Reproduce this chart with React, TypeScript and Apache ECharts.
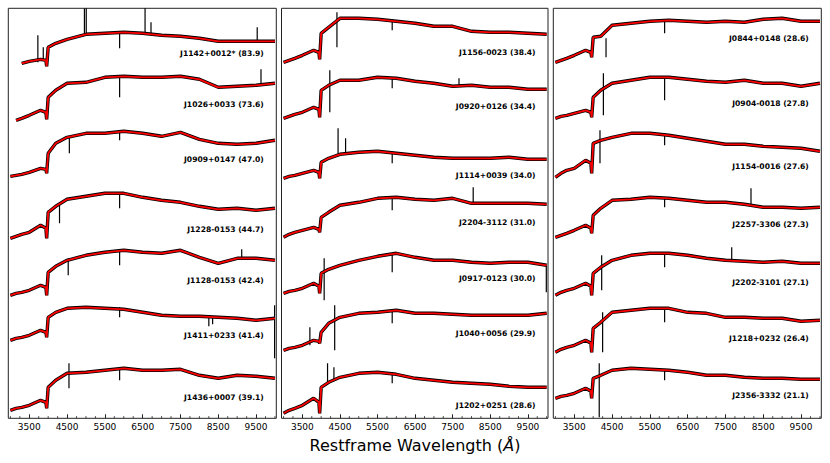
import React, { useEffect, useRef } from "react";
import * as echarts from "echarts";

// Wavelength grid (Angstrom) shared by all spectra
const WAVE = [3000, 3150, 3300, 3500, 3800, 3940, 3960, 4000, 4200, 4500, 5000, 5500, 6000, 6500, 7000, 7500, 8000, 8500, 9000, 9500, 10000];
const MAJOR_TICKS = [3500, 4500, 5500, 6500, 7500, 8500, 9500];
const MINOR_TICKS = [3000, 3250, 3750, 4000, 4250, 4750, 5000, 5250, 5750, 6000, 6250, 6750, 7000, 7250, 7750, 8000, 8250, 8750, 9000, 9250, 9750, 10000];

// Panel 1
const NAMES_1 = ["J1142+0012* (83.9)", "J1026+0033 (73.6)", "J0909+0147 (47.0)", "J1228-0153 (44.7)", "J1128-0153 (42.4)", "J1411+0233 (41.4)", "J1436+0007 (39.1)"];
const OFFSETS_1 = [355, 298, 242, 180, 123, 78, 8];
const LABEL_LEVEL_1 = [10, 16, 17, 9, 15, 5, 13];
const F_J1142 = [null, null, 0, 2, 4, 3, -3, 16, 20, 24, 29, 30, 31, 30, 28, 27, 25, 22, 22, 22, 22];
const F_J1026 = [null, 0, 2, 5, 10, 8, 1, 23, 30, 37, 38, 43, 44, 43, 43, 44, 41, 33, 34, 35, 37];
const F_J0909 = [0, 1, 2, 4, 8, 7, 3, 23, 33, 39, 43, 43, 45, 43, 40, 44, 37, 33, 32, 33, 36];
const F_J1228 = [0, 2, 4, 6, 13, 10, 0, 26, 32, 39, 42, 45, 45, 41, 38, 36, 32, 29, 30, 28, 30];
const F_J1128 = [0, 2, 3, 5, 10, 8, 0, 23, 29, 35, 40, 43, 45, 43, 42, 45, 38, 32, 37, 37, 35];
const F_J1411 = [0, 2, 3, 5, 10, 8, 3, 23, 28, 32, 33, 32, 31, 28, 25, 24, 24, 23, 22, 20, 22];
const F_J1436 = [0, 2, 3, 5, 10, 8, 2, 23, 30, 37, 38, 40, 42, 40, 40, 41, 35, 32, 35, 34, 32];
const S_J1142 = [[3727, 1, 28], [3870, 4, 16], [4959, 29, 55], [5007, 29, 56], [5890, 30, 15], [6563, 30, 56], [6720, 30, 41], [9530, 22, 36]];
const S_J1026 = [[5890, 43, 23], [9630, 35, 51]];
const S_J0909 = [[4560, 40, 23], [5890, 46, 36]];
const S_J1228 = [[4300, 34, 15], [5890, 45, 30]];
const S_J1128 = [[4530, 37, 20], [5890, 45, 30], [9120, 37, 46]];
const S_J1411 = [[5890, 33, 23], [8250, 24, 14], [8350, 24, 16], [9990, 35, -18]];
const S_J1436 = [[4550, 22, 47], [5890, 41, 30]];

// Panel 2
const NAMES_2 = ["J1156-0023 (38.4)", "J0920+0126 (34.4)", "J1114+0039 (34.0)", "J2204-3112 (31.0)", "J0917-0123 (30.0)", "J1040+0056 (29.9)", "J1202+0251 (28.6)"];
const OFFSETS_2 = [356, 300, 240, 181, 125, 68, 5];
const LABEL_LEVEL_2 = [10, 12, 3, 15, 15, 17, 8];
const F_J1156 = [0, 2, 4, 7, 12, 10, 3, 29, 35, 44, 44, 43, 41, 39, 36, 36, 31, 30, 30, 29, 28];
const F_J0920 = [0, 2, 4, 6, 11, 9, 1, 28, 33, 38, 38, 41, 40, 37, 35, 32, 33, 31, 31, 29, 29];
const F_J1114 = [0, 2, 3, 5, 8, 6, 0, 16, 20, 24, 26, 27, 25, 23, 21, 20, 20, 20, 21, 19, 19];
const F_J2204 = [0, 3, 5, 7, 10, 8, 5, 20, 25, 32, 35, 39, 40, 38, 37, 39, 34, 34, 34, 34, 33];
const F_J0917 = [0, 2, 3, 5, 10, 7, 0, 20, 24, 28, 33, 37, 40, 36, 33, 33, 31, 30, 31, 31, 28];
const F_J1040 = [0, 2, 3, 5, 10, 9, 7, 18, 27, 33, 37, 38, 40, 37, 37, 36, 35, 35, 35, 35, 37];
const F_J1202 = [0, 3, 5, 8, 15, 11, 0, 26, 31, 36, 40, 41, 39, 35, 33, 31, 30, 29, 27, 26, 26];
const S_J1156 = [[4420, 15, 50], [5890, 43, 32]];
const S_J0920 = [[4230, 6, 48], [5890, 40, 30], [7667, 32, 40]];
const S_J1114 = [[4450, 24, 50], [4650, 25, 40], [5890, 27, 15]];
const S_J2204 = [[8045, 34, 50], [5890, 39, 27]];
const S_J0917 = [[4080, -7, 35], [5890, 39, 21], [9990, 28, 1]];
const S_J1040 = [[3700, 5, 23], [4360, 0, 45], [5890, 39, 27]];
const S_J1202 = [[4170, 30, 50], [4340, 33, 46], [5890, 41, 30]];

// Panel 3
const NAMES_3 = ["J0844+0148 (28.6)", "J0904-0018 (27.8)", "J1154-0016 (27.6)", "J2257-3306 (27.3)", "J2202-3101 (27.1)", "J1218+0232 (26.4)", "J2356-3332 (21.1)"];
const OFFSETS_3 = [356, 300, 241, 181, 123, 66, 20];
const LABEL_LEVEL_3 = [24, 15, 11, 13, 13, 14, 3];
const F_J0844 = [0, 2, 4, 7, 12, 10, 5, 25, 26, 37, 39, 41, 42, 41, 40, 41, 40, 43, 44, 41, 41];
const F_J0904 = [0, 2, 3, 5, 8, 6, 1, 21, 28, 35, 38, 41, 41, 39, 37, 36, 38, 35, 35, 32, 35];
const F_J1154 = [0, 4, 7, 9, 17, 14, 4, 34, 37, 40, 44, 44, 42, 39, 36, 33, 33, 31, 30, 29, 26];
const F_J2257 = [0, 2, 4, 7, 12, 9, 4, 22, 29, 37, 38, 40, 39, 37, 35, 35, 33, 30, 30, 29, 30];
const F_J2202 = [0, 3, 5, 7, 12, 9, 0, 22, 28, 35, 40, 42, 42, 40, 37, 35, 34, 33, 34, 32, 32];
const F_J1218 = [0, 3, 5, 7, 12, 9, 0, 24, 30, 40, 42, 44, 44, 40, 39, 35, 35, 34, 34, 31, 32];
const F_J2356 = [0, 2, 3, 5, 10, 7, 0, 20, 23, 28, 30, 29, 28, 26, 23, 23, 21, 20, 20, 19, 19];
const S_J0844 = [[4340, 24, 5], [5890, 41, 29]];
const S_J0904 = [[4270, 3, 45], [5890, 41, 18]];
const S_J1154 = [[4180, 14, 47], [5890, 44, 32]];
const S_J2257 = [[8175, 33, 49], [5890, 40, 30]];
const S_J2202 = [[4225, 5, 40], [7665, 36, 48], [5890, 42, 28]];
const S_J1218 = [[4250, 0, 40], [5890, 44, 30]];
const S_J2356 = [[4160, -19, 35], [5890, 29, 18]];

const PANELS = [
  { names: NAMES_1, offsets: OFFSETS_1, labels: LABEL_LEVEL_1, flux: [F_J1142, F_J1026, F_J0909, F_J1228, F_J1128, F_J1411, F_J1436], spikes: [S_J1142, S_J1026, S_J0909, S_J1228, S_J1128, S_J1411, S_J1436] },
  { names: NAMES_2, offsets: OFFSETS_2, labels: LABEL_LEVEL_2, flux: [F_J1156, F_J0920, F_J1114, F_J2204, F_J0917, F_J1040, F_J1202], spikes: [S_J1156, S_J0920, S_J1114, S_J2204, S_J0917, S_J1040, S_J1202] },
  { names: NAMES_3, offsets: OFFSETS_3, labels: LABEL_LEVEL_3, flux: [F_J0844, F_J0904, F_J1154, F_J2257, F_J2202, F_J1218, F_J2356], spikes: [S_J0844, S_J0904, S_J1154, S_J2257, S_J2202, S_J1218, S_J2356] },
];

const GRID_BOXES = [
  { left: 8.3, width: 268 },
  { left: 281.5, width: 266.5 },
  { left: 553.3, width: 268 },
];

const X_MIN = 2945;
const X_MAX = 10035;
const LABEL_WAVE = 9705;

function buildOption() {
  const grid: any[] = [];
  const xAxis: any[] = [];
  const yAxis: any[] = [];
  const series: any[] = [];

  PANELS.forEach((panel, p) => {
    grid.push({
      left: GRID_BOXES[p].left,
      width: GRID_BOXES[p].width,
      top: 8.3,
      height: 410,
      show: true,
      borderColor: "#222",
      borderWidth: 1,
      backgroundColor: "transparent",
    });
    xAxis.push({
      type: "value",
      gridIndex: p,
      min: X_MIN,
      max: X_MAX,
      splitLine: { show: false },
      axisLine: { show: false },
      axisTick: { show: true, inside: true, length: 4, customValues: MAJOR_TICKS, lineStyle: { color: "#222", width: 1 } },
      axisLabel: {
        show: true, customValues: MAJOR_TICKS, margin: 4, fontSize: 9, fontFamily: "DejaVu Sans", color: "#000",
        formatter: (v: number) => String(Math.round(v)),
      },
    });
    yAxis.push({ type: "value", gridIndex: p, min: 0, max: 410, show: false });

    const spikeData: any[] = [];
    const labelData: any[] = [];
    panel.flux.forEach((flux, k) => {
      const off = panel.offsets[k];
      const pts: any[] = [];
      WAVE.forEach((w, i) => {
        const f = flux[i];
        if (f !== null && f !== undefined) pts.push([w, f + off]);
      });
      series.push({
        type: "line", xAxisIndex: p, yAxisIndex: p, data: pts, showSymbol: false, symbol: "none",
        lineStyle: { color: "#000", width: 3.4 }, z: 2, clip: true, silent: true,
      });
      series.push({
        type: "line", xAxisIndex: p, yAxisIndex: p, data: pts, showSymbol: false, symbol: "none",
        lineStyle: { color: "#ff0000", width: 1.8 }, z: 4, clip: true, silent: true,
      });
      panel.spikes[k].forEach((s) => spikeData.push([s[0], s[1] + off, s[2] + off]));
      labelData.push([LABEL_WAVE, panel.labels[k] + off, k]);
    });

    series.push({
      type: "custom", xAxisIndex: p, yAxisIndex: p, data: spikeData, z: 3, clip: true, silent: true,
      encode: { x: 0, y: [1, 2] },
      renderItem: (params: any, api: any) => {
        const a = api.coord([api.value(0), api.value(1)]);
        const b = api.coord([api.value(0), api.value(2)]);
        return { type: "line", shape: { x1: a[0], y1: a[1], x2: b[0], y2: b[1] }, style: { stroke: "#000", lineWidth: 1.2 } };
      },
    });
    // minor ticks along the bottom axis
    series.push({
      type: "custom", xAxisIndex: p, yAxisIndex: p, data: MINOR_TICKS.map((w) => [w, 0]), z: 5, silent: true,
      encode: { x: 0, y: 1 },
      renderItem: (params: any, api: any) => {
        const c = api.coord([api.value(0), 0]);
        return { type: "line", shape: { x1: c[0], y1: c[1], x2: c[0], y2: c[1] - 2.2 }, style: { stroke: "#222", lineWidth: 0.8 } };
      },
    });
    series.push({
      type: "custom", xAxisIndex: p, yAxisIndex: p, data: labelData, z: 6, silent: true,
      encode: { x: 0, y: 1 },
      renderItem: (params: any, api: any) => {
        const c = api.coord([api.value(0), api.value(1)]);
        const name = panel.names[api.value(2)];
        return {
          type: "text", x: c[0], y: c[1],
          style: { text: name, fill: "#000", fontSize: 7.6, fontWeight: "bold", fontFamily: "DejaVu Sans", align: "right", verticalAlign: "middle" },
        };
      },
    });
  });

  return {
    animation: false,
    backgroundColor: "#fff",
    title: {
      text: "{a|Restframe Wavelength (}{b|Å}{a|)}",
      left: "center",
      top: 432,
      textStyle: {
        fontWeight: "normal",
        rich: {
          a: { fontSize: 16, fontFamily: "DejaVu Sans", fontWeight: "normal", color: "#000" },
          b: { fontSize: 16, fontFamily: "DejaVu Sans", fontStyle: "italic", fontWeight: "normal", color: "#000" },
        },
      },
    },
    grid,
    xAxis,
    yAxis,
    series,
  };
}

export default function App() {
  const ref = useRef<HTMLDivElement>(null);
  useEffect(() => {
    if (!ref.current) return;
    const chart = echarts.init(ref.current, undefined, { renderer: "svg" });
    chart.setOption(buildOption() as any);
    return () => chart.dispose();
  }, []);
  return <div ref={ref} style={{ position: "fixed", left: 0, top: 0, width: 830, height: 463 }} />;
}
